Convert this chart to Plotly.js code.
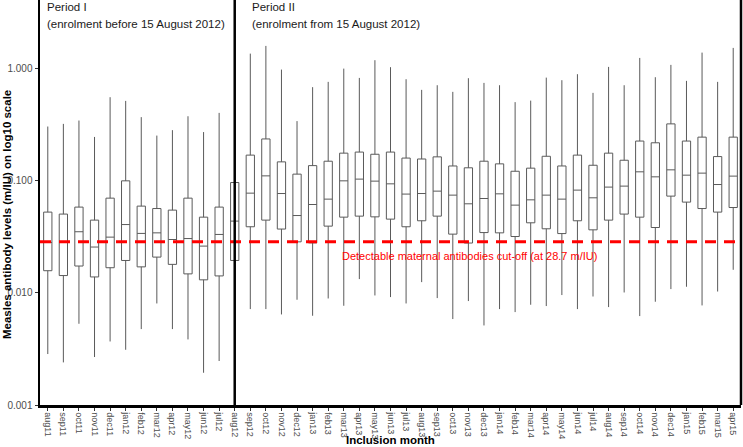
<!DOCTYPE html>
<html>
<head>
<meta charset="utf-8">
<script src="https://cdn.plot.ly/plotly-3.0.1.min.js"></script>
<style>html,body{margin:0;padding:0;background:#fff;}#chart{width:743px;height:447px;}</style>
</head>
<body>
<div id="chart"></div>
<script>
const months = ["aug11","sep11","oct11","nov11","dec11","jan12","feb12","mar12","apr12","may12","jun12","jul12",
  "aug12","sep12","oct12","nov12","dec12","jan13","feb13","mar13","apr13","may13","jun13","jul13",
  "aug13","sep13","oct13","nov13","dec13","jan14","feb14","mar14","apr14","may14","jun14","jul14",
  "aug14","sep14","oct14","nov14","dec14","jan15","feb15","mar15","apr15"];
const upper = [0.306,0.323,0.346,0.247,0.559,0.518,0.371,0.254,0.284,0.378,0.273,0.405,
  0.45,1.369,1.604,0.986,0.342,0.687,0.766,1.006,0.831,1.196,1.036,0.809,
  0.650,0.715,0.624,0.826,0.750,0.715,0.505,0.521,0.836,0.793,0.897,0.611,
  1.042,0.715,1.253,0.843,1.086,0.782,1.398,0.766,1.539];
const q3 = [0.0527,0.0506,0.0584,0.0447,0.0702,0.1002,0.0596,0.0567,0.0549,0.0702,0.0475,0.0584,
  0.0968,0.170,0.237,0.148,0.115,0.137,0.150,0.177,0.181,0.173,0.181,0.160,
  0.157,0.164,0.136,0.131,0.150,0.142,0.122,0.130,0.166,0.136,0.170,0.138,
  0.177,0.153,0.227,0.219,0.323,0.227,0.246,0.165,0.246];
const median = [0.0282,0.0288,0.0352,0.0257,0.0315,0.0408,0.0340,0.0344,0.0300,0.0306,0.0262,0.0333,
  0.0438,0.0778,0.111,0.0772,0.0491,0.0616,0.0688,0.1002,0.1038,0.0996,0.0942,0.0763,
  0.0772,0.0811,0.0747,0.0625,0.0697,0.0767,0.0608,0.0678,0.0747,0.0688,0.0828,0.0707,
  0.0881,0.0899,0.1206,0.1088,0.1256,0.1126,0.1174,0.0929,0.1104];
const q1 = [0.0158,0.0143,0.0174,0.0139,0.0168,0.0195,0.0171,0.0209,0.0180,0.0148,0.0131,0.0142,
  0.0195,0.0390,0.0447,0.0372,0.0286,0.0280,0.0395,0.0475,0.0485,0.0478,0.0456,0.0390,
  0.0441,0.0485,0.0335,0.0279,0.0346,0.0344,0.0319,0.0423,0.0374,0.0339,0.0441,0.0366,
  0.0447,0.0506,0.0475,0.0384,0.0732,0.0647,0.0567,0.0527,0.0579];
const lower = [0.00285,0.00240,0.00531,0.00268,0.00369,0.00311,0.00476,0.00806,0.00476,0.00385,0.00194,0.00247,
  0.0035,0.00718,0.00718,0.00643,0.0087,0.00626,0.00893,0.00769,0.0133,0.0095,0.00919,0.00806,
  0.0125,0.0090,0.00585,0.00847,0.00513,0.00718,0.00675,0.00785,0.00764,0.00958,0.00718,0.0093,
  0.00748,0.0101,0.00622,0.00835,0.01083,0.01136,0.00774,0.0103,0.0161];
const cutoff = 0.0287;
const periodSplit = "aug12";
const yTickVals = [0.001, 0.01, 0.1, 1];
const yTickText = ["0.001", "0.010", "0.100", "1.000"];

const FONT = "Liberation Sans, Arial, sans-serif";

const trace = {
  type: "box",
  x: months,
  q1: q1, median: median, q3: q3,
  lowerfence: lower, upperfence: upper,
  boxpoints: false,
  whiskerwidth: 0,
  fillcolor: "rgba(255,255,255,1)",
  line: {color: "#5a5a5a", width: 1},
  hoverinfo: "skip",
  showlegend: false
};

const layout = {
  width: 743, height: 447,
  margin: {l: 40, r: 2, t: 0, b: 42},
  paper_bgcolor: "#fff", plot_bgcolor: "#fff",
  font: {family: FONT, color: "#4d4d4d"},
  boxgap: 0.24,
  xaxis: {
    type: "category",
    categoryorder: "array", categoryarray: months,
    range: [-0.5, 44.5],
    showgrid: false, zeroline: false,
    showline: true, linecolor: "#000", linewidth: 2.5,
    ticks: "outside", ticklen: 3, tickcolor: "#333", tickwidth: 1,
    tickangle: 90, ticklabelstandoff: 0,
    tickfont: {size: 9, color: "#4d4d4d", family: FONT}
  },
  yaxis: {
    type: "log",
    range: [-3.0, 0.615],
    tickvals: yTickVals, ticktext: yTickText,
    showgrid: false, zeroline: false,
    showline: true, linecolor: "#000", linewidth: 2.5,
    ticks: "outside", ticklen: 3, tickcolor: "#333", tickwidth: 1,
    tickfont: {size: 10, color: "#4d4d4d", family: FONT}
  },
  shapes: [
    {type: "line", xref: "paper", yref: "y", x0: 0, x1: 1, y0: cutoff, y1: cutoff,
     line: {color: "#ff0000", width: 3, dash: "11px,8px"}},
    {type: "line", xref: "x", yref: "paper", x0: periodSplit, x1: periodSplit, y0: 0, y1: 1,
     line: {color: "#000", width: 2.5}},
    {type: "line", xref: "paper", yref: "paper", x0: 1, x1: 1, y0: 0, y1: 1,
     line: {color: "#000", width: 2.5}}
  ],
  annotations: [
    {xref: "paper", yref: "paper", x: 0.007, y: 0.983, xanchor: "left", yanchor: "middle", showarrow: false,
     text: "Period I", font: {size: 11.5, color: "#1a1a1a", family: FONT}},
    {xref: "paper", yref: "paper", x: 0.007, y: 0.941, xanchor: "left", yanchor: "middle", showarrow: false,
     text: "(enrolment before 15 August 2012)", font: {size: 11.5, color: "#1a1a1a", family: FONT}},
    {xref: "paper", yref: "paper", x: 0.2996, y: 0.983, xanchor: "left", yanchor: "middle", showarrow: false,
     text: "Period II", font: {size: 11.5, color: "#1a1a1a", family: FONT}},
    {xref: "paper", yref: "paper", x: 0.2996, y: 0.941, xanchor: "left", yanchor: "middle", showarrow: false,
     text: "(enrolment from 15 August 2012)", font: {size: 11.5, color: "#1a1a1a", family: FONT}},
    {xref: "paper", yref: "paper", x: 0.613, y: 0.368, xanchor: "center", yanchor: "middle", showarrow: false,
     text: "Detectable maternal antibodies cut-off (at 28.7 m/IU)", font: {size: 11, color: "#ff0000", family: FONT}},
    {xref: "paper", yref: "paper", x: 0.5, y: -0.0875, xanchor: "center", yanchor: "middle", showarrow: false,
     text: "<b>Inclusion month</b>", font: {size: 11.5, color: "#000", family: FONT}},
    {xref: "paper", yref: "paper", x: -0.048, y: 0.47, xanchor: "center", yanchor: "middle", showarrow: false,
     textangle: -90,
     text: "<b>Measles antibody levels (m/IU) on log10 scale</b>", font: {size: 11.5, color: "#000", family: FONT}}
  ]
};

Plotly.newPlot("chart", [trace], layout, {displayModeBar: false, staticPlot: true});
</script>
</body>
</html>
